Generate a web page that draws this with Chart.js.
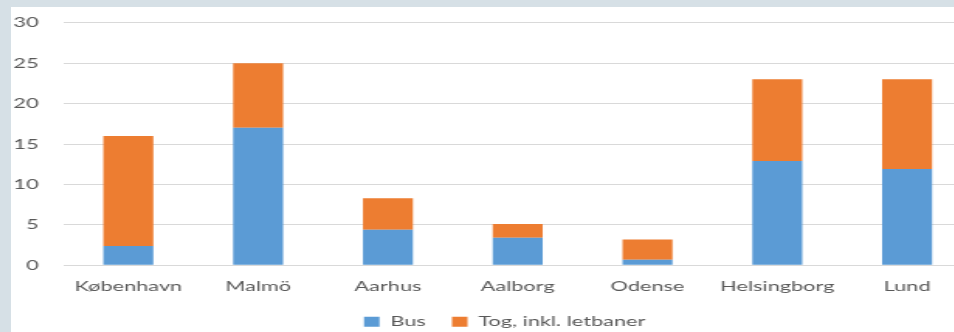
<!DOCTYPE html>
<html>
<head>
<meta charset="utf-8">
<script src="https://cdn.jsdelivr.net/npm/chart.js@4.4.1/dist/chart.umd.min.js"></script>
<style>
  html, body { margin: 0; padding: 0; width: 954px; height: 332px; overflow: hidden; background: #d6e0e6; }
  #panel { position: absolute; left: 11px; top: 7px; width: 943px; height: 325px; background: #ffffff; overflow: hidden; }
  #c { position: absolute; left: 0; top: 0; transform: scaleX(1.55); transform-origin: 0 0; }
</style>
</head>
<body>
<div id="panel"><canvas id="c" width="620" height="325"></canvas></div>
<script>
const categories = ['København', 'Malmö', 'Aarhus', 'Aalborg', 'Odense', 'Helsingborg', 'Lund'];
const busValues = [2.4, 17, 4.4, 3.4, 0.7, 12.9, 11.9];
const togValues = [13.6, 8, 3.9, 1.7, 2.5, 10.1, 11.1];
const seriesNames = ['Bus', 'Tog, inkl. letbaner'];
const yTicks = [0, 5, 10, 15, 20, 25, 30];

const tickFont = { family: 'Lato', size: 14 };
const tickColor = '#595959';

const legendShift = {
  id: 'legendShift',
  afterLayout(chart) {
    if (chart.legend) { chart.legend.left += 8.5; chart.legend.right += 8.5; }
  }
};

new Chart(document.getElementById('c'), {
  type: 'bar',
  data: {
    labels: categories,
    datasets: [
      { label: seriesNames[0], data: busValues, backgroundColor: '#5b9bd5', borderWidth: 0 },
      { label: seriesNames[1], data: togValues, backgroundColor: '#ed7d31', borderWidth: 0 }
    ]
  },
  plugins: [legendShift],
  options: {
    responsive: false,
    animation: false,
    devicePixelRatio: 1,
    layout: { padding: { top: 15.7, left: 0, right: 0, bottom: -6.7 } },
    datasets: { bar: { categoryPercentage: 1, barPercentage: 0.385 } },
    scales: {
      x: {
        stacked: true,
        grid: { display: false, drawTicks: false },
        border: { display: false },
        ticks: { color: tickColor, font: tickFont, padding: 13, maxRotation: 0, autoSkip: false },
        afterFit: (s) => { s.height = 32.4; s.paddingLeft = 0; s.paddingRight = 0; }
      },
      y: {
        stacked: true,
        min: yTicks[0],
        max: yTicks[yTicks.length - 1],
        afterBuildTicks: (s) => { s.ticks = yTicks.map(v => ({ value: v })); },
        grid: { color: '#d9d9d9', lineWidth: 1, drawTicks: false },
        border: { display: false },
        ticks: { color: tickColor, font: tickFont, padding: 16 },
        afterFit: (s) => { s.width = 33.8; s.paddingTop = 0; s.paddingBottom = 0; }
      }
    },
    plugins: {
      legend: {
        position: 'bottom',
        labels: { color: tickColor, font: tickFont, boxWidth: 10, boxHeight: 10, padding: 17 }
      },
      tooltip: { enabled: false },
      title: { display: false }
    }
  }
});
</script>
</body>
</html>
